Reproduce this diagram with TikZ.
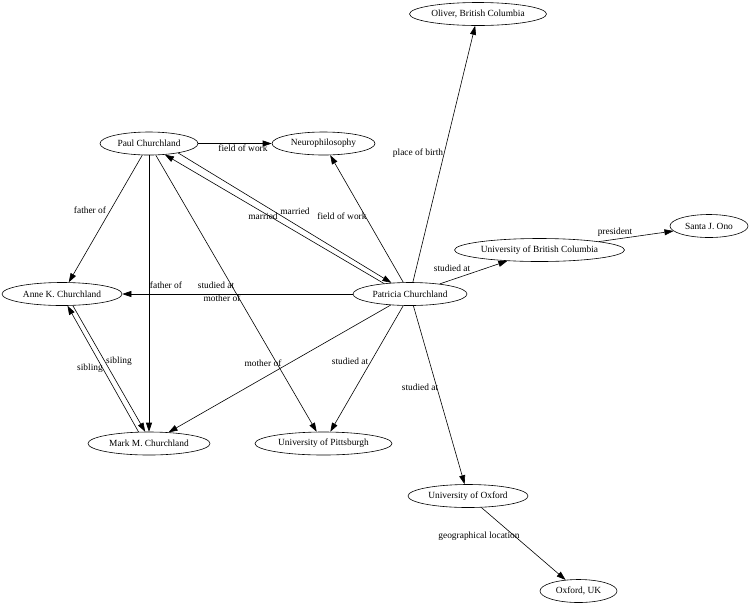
\documentclass[tikz,border=0pt]{standalone}
\usepackage{fontspec}
\setmainfont{Liberation Serif}
\usetikzlibrary{arrows.meta,shapes.geometric}
\begin{document}
\begin{tikzpicture}[x=1pt,y=-1pt,
 ent/.style={draw, ellipse, line width=0.6pt, inner xsep=-45pt, inner ysep=-10pt, minimum height=23pt, font=\fontsize{9.4}{11}\selectfont},
 rel/.style={draw, line width=0.6pt, -{Triangle[length=9pt,width=6pt]}},
 lbl/.style={inner sep=0pt, font=\fontsize{9.4}{11}\selectfont}]
\fill[white] (0,0) rectangle (751,606);
\useasboundingbox (0,0) rectangle (751,606);

\node[ent, minimum width=137pt] (oliver) at (478,14) {Oliver, British Columbia};
\node[ent, minimum width=98pt] (paul) at (149,143.5) {Paul Churchland};
\node[ent, minimum width=103pt] (neuro) at (323.5,143.5) {Neurophilosophy};
\node[ent, minimum width=78pt] (ono) at (709,226) {Santa J. Ono};
\node[ent, minimum width=170pt] (ubc) at (539.5,250) {University of British Columbia};
\node[ent, minimum width=120pt] (anne) at (62,294) {Anne K. Churchland};
\node[ent, minimum width=114pt] (pat) at (410,294) {Patricia Churchland};
\node[ent, minimum width=122pt] (mark) at (149,443.5) {Mark M. Churchland};
\node[ent, minimum width=137pt] (pitt) at (323.5,443.5) {University of Pittsburgh};
\node[ent, minimum width=120pt] (uox) at (468,496) {University of Oxford};
\node[ent, minimum width=77pt] (oxuk) at (578.5,591) {Oxford, UK};

\draw[rel] (paul) -- (neuro) node[lbl] at (243,148) {field of work};
\draw[rel] (paul) -- (anne) node[lbl] at (90,210) {father of};
\draw[rel] (paul) -- (mark) node[lbl] at (166,285) {father of};
\draw[rel] (paul) -- (pitt) node[lbl] at (216,285) {studied at};
\draw[rel] (paul.-18) -- (pat.149) node[lbl] at (295,211) {married};
\draw[rel] (pat.158) -- (paul.-35) node[lbl] at (263,216) {married};
\draw[rel] (pat) -- (neuro) node[lbl] at (342,216) {field of work};
\draw[rel] (pat) -- (oliver) node[lbl] at (418,153) {place of birth};
\draw[rel] (pat) -- (ubc) node[lbl] at (452,268) {studied at};
\draw[rel] (ubc) -- (ono) node[lbl] at (615,232) {president};
\draw[rel] (pat) -- (anne) node[lbl] at (222,298) {mother of};
\draw[rel] (pat) -- (mark) node[lbl] at (263,363) {mother of};
\draw[rel] (pat) -- (pitt) node[lbl] at (350,361) {studied at};
\draw[rel] (pat) -- (uox) node[lbl] at (420,387) {studied at};
\draw[rel] (uox) -- (oxuk) node[lbl] at (479,536) {geographical location};
\draw[rel] (anne.-47) -- (mark.108) node[lbl] at (119,361) {sibling};
\draw[rel] (mark.132) -- (anne.-65) node[lbl] at (90,368) {sibling};
\end{tikzpicture}
\end{document}
